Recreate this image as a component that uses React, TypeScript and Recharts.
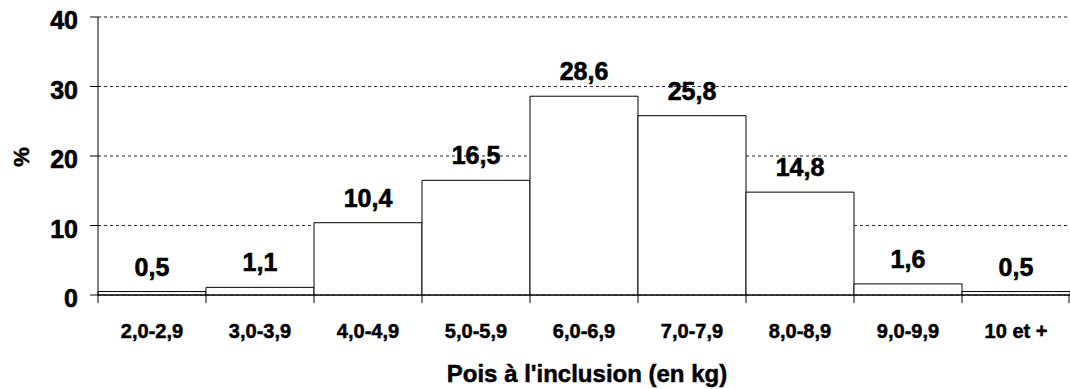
import { BarChart, Bar, XAxis, YAxis, CartesianGrid, LabelList, Label } from "recharts";

const categories = ["2,0-2,9", "3,0-3,9", "4,0-4,9", "5,0-5,9", "6,0-6,9", "7,0-7,9", "8,0-8,9", "9,0-9,9", "10 et +"];
const percents = [0.5, 1.1, 10.4, 16.5, 28.6, 25.8, 14.8, 1.6, 0.5];
const yTicks = [0, 10, 20, 30, 40];
const xTitle = "Pois à l'inclusion (en kg)";
const yTitle = "%";

const data = categories.map((c, i) => ({ name: c, value: percents[i] }));

const W = 1070;
const H = 389;
const LEFT = 98;
const BAND = (W - LEFT) / categories.length;
const FONT = "'Liberation Sans', Arial, sans-serif";

function fmt(v: number): string {
  return v.toFixed(1).replace(".", ",");
}

function XTick(props: any) {
  const { x, y, payload, index } = props;
  const last = index === categories.length - 1;
  return (
    <g>
      <line x1={x - BAND / 2} x2={x - BAND / 2} y1={y} y2={y + 8} stroke="#000" />
      {last && <line x1={x + BAND / 2 - 1} x2={x + BAND / 2 - 1} y1={y} y2={y + 8} stroke="#000" />}
      <text x={x} y={y + 43} textAnchor="middle" fontFamily={FONT} fontWeight="bold" fontSize={20} fill="#000" stroke="#000" strokeWidth={0.5}>
        {payload.value}
      </text>
    </g>
  );
}

function YTick(props: any) {
  const { x, y, payload } = props;
  return (
    <text x={x} y={y + 12} textAnchor="end" fontFamily={FONT} fontWeight="bold" fontSize={25} fill="#000" stroke="#000" strokeWidth={0.6}>
      {payload.value}
    </text>
  );
}

function ValueLabel(props: any) {
  const { x, y, width, value } = props;
  return (
    <text x={x + width / 2} y={y - 16} textAnchor="middle" fontFamily={FONT} fontWeight="bold" fontSize={25} fill="#000" stroke="#000" strokeWidth={0.6}>
      {fmt(value)}
    </text>
  );
}

export default function App() {
  return (
    <div style={{ position: "absolute", left: 0, top: 0, width: W, height: H, background: "#fff" }}>
      <BarChart width={W} height={H} data={data} margin={{ top: 17, right: 0, left: 0, bottom: 0 }} barCategoryGap={0}>
        <CartesianGrid vertical={false} stroke="#222" strokeDasharray="3 3" />
        <XAxis
          dataKey="name"
          height={94}
          tickLine={false}
          tickSize={0}
          tickMargin={0}
          axisLine={{ stroke: "#000" }}
          tick={<XTick />}
          interval={0}
        >
          <Label
            content={() => (
              <text x={587} y={382} textAnchor="middle" fontFamily={FONT} fontWeight="bold" fontSize={24} fill="#000" stroke="#000" strokeWidth={0.5}>
                {xTitle}
              </text>
            )}
          />
        </XAxis>
        <YAxis
          width={LEFT}
          domain={[0, 40]}
          ticks={yTicks}
          tickSize={8}
          tickMargin={12}
          tickLine={{ stroke: "#000" }}
          axisLine={{ stroke: "#000" }}
          tick={<YTick />}
        >
          <Label
            content={() => (
              <text x={29} y={157} transform="rotate(-90, 29, 157)" textAnchor="middle" fontFamily={FONT} fontWeight="bold" fontSize={22} fill="#000" stroke="#000" strokeWidth={0.5}>
                {yTitle}
              </text>
            )}
          />
        </YAxis>
        <Bar dataKey="value" fill="#fff" stroke="#000" strokeWidth={1} isAnimationActive={false}>
          <LabelList dataKey="value" content={<ValueLabel />} />
        </Bar>
      </BarChart>
    </div>
  );
}
